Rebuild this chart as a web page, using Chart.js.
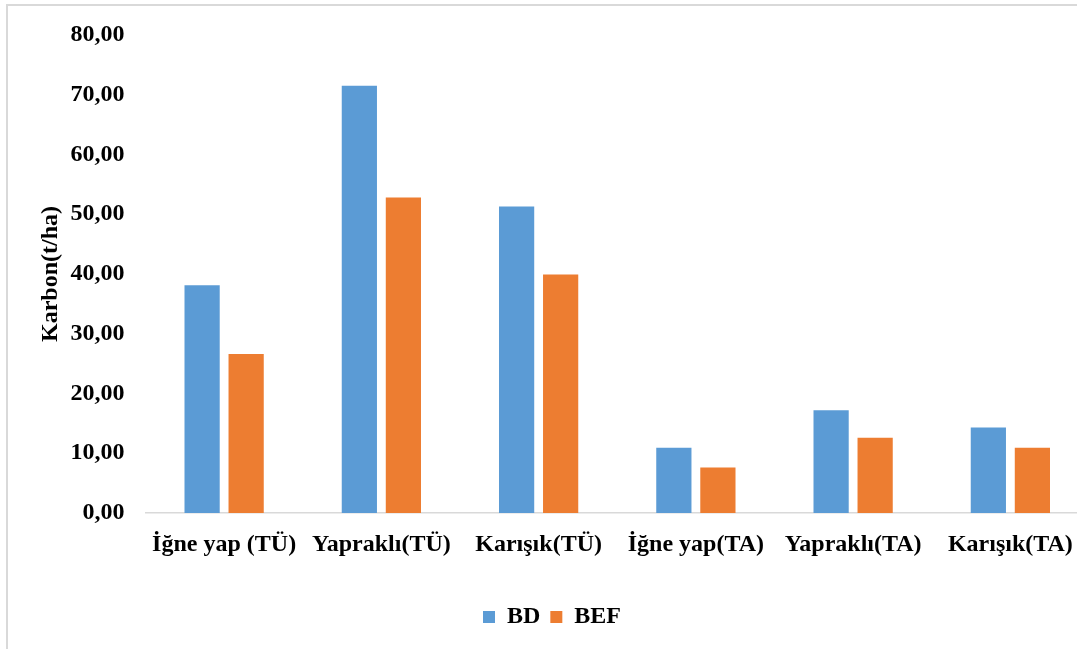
<!DOCTYPE html>
<html>
<head>
<meta charset="utf-8">
<script src="https://cdn.jsdelivr.net/npm/chart.js@4/dist/chart.umd.min.js"></script>
<style>
  html, body { margin:0; padding:0; background:#ffffff; overflow:hidden; width:1077px; height:649px; }
  #frame { position:absolute; left:6px; top:4px; width:2000px; height:2000px; border:2px solid #d9d9d9; box-sizing:border-box; }
  #wrap { position:absolute; left:0; top:0; width:1100px; height:649px; }
</style>
</head>
<body>
<div id="frame"></div>
<div id="wrap"><canvas id="c" width="1100" height="649"></canvas></div>
<script>
const categories = ["İğne yap (TÜ)", "Yapraklı(TÜ)", "Karışık(TÜ)", "İğne yap(TA)", "Yapraklı(TA)", "Karışık(TA)"];
const seriesNames = ["BD", "BEF"];
const bdValues = [38.1, 71.5, 51.3, 10.9, 17.2, 14.3];
const befValues = [26.6, 52.8, 39.9, 7.6, 12.6, 10.9];
const yTicks = [0, 10, 20, 30, 40, 50, 60, 70, 80];
const yTitle = "Karbon(t/ha)";

const FONT = "'Liberation Serif', 'Times New Roman', serif";

new Chart(document.getElementById('c'), {
  type: 'bar',
  data: {
    labels: categories,
    datasets: [
      { label: seriesNames[0], data: bdValues, backgroundColor: '#5B9BD5', borderWidth: 0 },
      { label: seriesNames[1], data: befValues, backgroundColor: '#ED7D31', borderWidth: 0 }
    ]
  },
  options: {
    responsive: false,
    animation: false,
    layout: { padding: { left: 15, right: 11, top: 35, bottom: 10 } },
    datasets: { bar: { categoryPercentage: 0.56, barPercentage: 0.8 } },
    plugins: {
      legend: {
        position: 'bottom',
        labels: {
          color: '#000',
          font: { family: FONT, size: 24, weight: 'bold' },
          boxWidth: 12, boxHeight: 12, padding: 10
        }
      },
      tooltip: { enabled: false }
    },
    scales: {
      x: {
        grid: { display: false },
        border: { display: true, color: '#d9d9d9', width: 1.5 },
        ticks: { color: '#000', font: { family: FONT, size: 24, weight: 'bold' }, padding: 9, maxRotation: 0, autoSkip: false },
        afterFit: (s) => { s.height = 82; }
      },
      y: {
        min: 0, max: 80,
        afterBuildTicks: (s) => { s.ticks = yTicks.map(v => ({ value: v })); },
        grid: { display: false },
        border: { display: false },
        ticks: {
          color: '#000', font: { family: FONT, size: 24, weight: 'bold' }, padding: 13,
          callback: (v) => Number(v).toFixed(2).replace('.', ',')
        },
        title: {
          display: true, text: yTitle, color: '#000',
          font: { family: FONT, size: 24, weight: 'bold' },
          padding: { top: 21.6, bottom: 0 }
        },
        afterFit: (s) => { s.width = 130.5; }
      }
    }
  }
});
</script>
</body>
</html>
